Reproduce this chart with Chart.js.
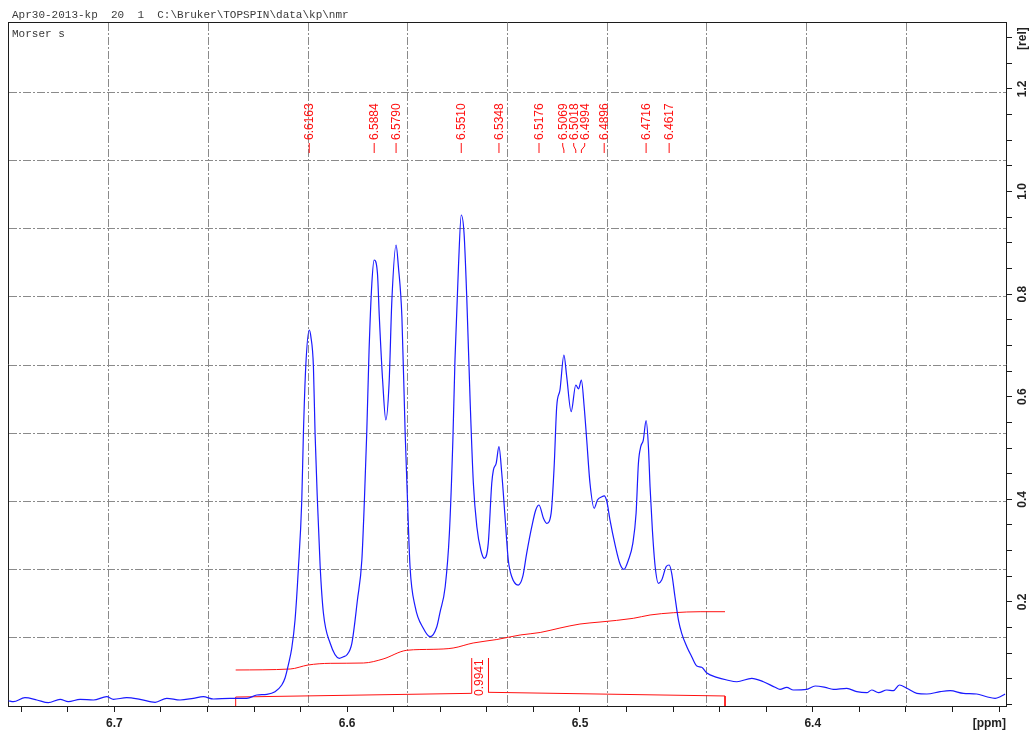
<!DOCTYPE html>
<html>
<head>
<meta charset="utf-8">
<title>Morser s – 1H NMR 6.32–6.75 ppm</title>
<script src="https://cdn.jsdelivr.net/npm/chart.js@4/dist/chart.umd.min.js"></script>
<style>
  html, body { margin: 0; padding: 0; background: #ffffff; }
  canvas { display: block; }
</style>
</head>
<body>
<canvas id="nmr" width="1035" height="732"></canvas>
<script>
// ---- Dataset header -------------------------------------------------------
const headerText = 'Apr30-2013-kp  20  1  C:\\Bruker\\TOPSPIN\\data\\kp\\nmr';
const sampleName = 'Morser s';

// ---- Axis ranges and tick labels -------------------------------------------
const ppmRange = [6.3170, 6.7457];          // visible chemical-shift window
const relRange = [-0.0029, 1.3304];         // visible intensity window
const xTickLabels = ['6.7', '6.6', '6.5', '6.4'];
const yTickValues = [0.2, 0.4, 0.6, 0.8, 1.0, 1.2];
const yTickLabels = ['0.2', '0.4', '0.6', '0.8', '1.0', '1.2'];
const xUnit = '[ppm]';
const yUnit = '[rel]';

// ---- Spectrum trace (ppm, relative intensity) -------------------------------
const specPpm = [
  6.7455, 6.7434, 6.7384, 6.7333, 6.7284, 6.7233, 6.7198, 6.7147, 6.7090, 6.7033,
  6.7004, 6.6947, 6.6890, 6.6825, 6.6775, 6.6718, 6.6661, 6.6618, 6.6575, 6.6503,
  6.6431, 6.6388, 6.6345, 6.6310, 6.6281, 6.6267, 6.6253, 6.6238, 6.6224, 6.6210,
  6.6195, 6.6188, 6.6178, 6.6163, 6.6156, 6.6145, 6.6138, 6.6128, 6.6116, 6.6102,
  6.6073, 6.6034, 6.6016, 6.6002, 6.5980, 6.5956, 6.5937, 6.5926, 6.5916, 6.5906,
  6.5894, 6.5884, 6.5870, 6.5862, 6.5847, 6.5834, 6.5820, 6.5808, 6.5790, 6.5780,
  6.5765, 6.5751, 6.5741, 6.5730, 6.5708, 6.5673, 6.5644, 6.5615, 6.5601, 6.5579,
  6.5561, 6.5546, 6.5537, 6.5522, 6.5510, 6.5498, 6.5486, 6.5472, 6.5458, 6.5443,
  6.5426, 6.5411, 6.5394, 6.5379, 6.5372, 6.5360, 6.5348, 6.5336, 6.5322, 6.5308,
  6.5293, 6.5265, 6.5246, 6.5229, 6.5207, 6.5190, 6.5176, 6.5157, 6.5143, 6.5124,
  6.5111, 6.5100, 6.5086, 6.5069, 6.5057, 6.5038, 6.5018, 6.5006, 6.4994, 6.4982,
  6.4971, 6.4957, 6.4939, 6.4925, 6.4906, 6.4896, 6.4885, 6.4871, 6.4849, 6.4828,
  6.4811, 6.4792, 6.4773, 6.4759, 6.4749, 6.4739, 6.4728, 6.4716, 6.4706, 6.4699,
  6.4689, 6.4677, 6.4663, 6.4649, 6.4630, 6.4617, 6.4606, 6.4592, 6.4577, 6.4563,
  6.4541, 6.4520, 6.4498, 6.4477, 6.4455, 6.4412, 6.4369, 6.4326, 6.4262, 6.4212,
  6.4162, 6.4141, 6.4112, 6.4083, 6.4026, 6.3990, 6.3947, 6.3912, 6.3854, 6.3811,
  6.3768, 6.3747, 6.3718, 6.3682, 6.3654, 6.3628, 6.3596, 6.3553, 6.3510, 6.3453,
  6.3410, 6.3353, 6.3296, 6.3253, 6.3217, 6.3195, 6.3174
];
const specRel = [
  0.0074, 0.0055, 0.0133, 0.0088, 0.0035, 0.0101, 0.0055, 0.0101, 0.0088, 0.0152,
  0.0101, 0.0133, 0.0101, 0.0043, 0.0121, 0.0088, 0.0121, 0.0152, 0.0107, 0.0121,
  0.0121, 0.0185, 0.0199, 0.0250, 0.0380, 0.0517, 0.0770, 0.1101, 0.1647, 0.2622,
  0.3986, 0.5292, 0.6585, 0.7300, 0.7170, 0.6585, 0.5292, 0.3986, 0.2686, 0.1778,
  0.1193, 0.0901, 0.0932, 0.0965, 0.1193, 0.2037, 0.2817, 0.3986, 0.5292, 0.6901,
  0.8211, 0.8665, 0.8405, 0.7559, 0.6261, 0.5546, 0.6261, 0.7885, 0.8957, 0.8534,
  0.7559, 0.5292, 0.3986, 0.2686, 0.1906, 0.1485, 0.1322, 0.1517, 0.1803, 0.2296,
  0.3337, 0.5156, 0.6715, 0.8534, 0.9542, 0.9185, 0.7885, 0.5936, 0.4312, 0.3466,
  0.3012, 0.2850, 0.3142, 0.4312, 0.4571, 0.4702, 0.5025, 0.4507, 0.3661, 0.2817,
  0.2491, 0.2329, 0.2491, 0.2947, 0.3466, 0.3791, 0.3889, 0.3630, 0.3532, 0.3727,
  0.4635, 0.5805, 0.6131, 0.6813, 0.6390, 0.5708, 0.6228, 0.6154, 0.6326, 0.5805,
  0.5156, 0.4312, 0.3825, 0.3986, 0.4051, 0.4068, 0.3967, 0.3596, 0.3109, 0.2739,
  0.2635, 0.2817, 0.3142, 0.3727, 0.4702, 0.5025, 0.5156, 0.5532, 0.5025, 0.4246,
  0.3402, 0.2686, 0.2363, 0.2427, 0.2686, 0.2719, 0.2558, 0.2101, 0.1647, 0.1388,
  0.1127, 0.0932, 0.0750, 0.0725, 0.0614, 0.0530, 0.0478, 0.0444, 0.0511, 0.0444,
  0.0335, 0.0296, 0.0335, 0.0283, 0.0296, 0.0361, 0.0335, 0.0296, 0.0316, 0.0250,
  0.0230, 0.0283, 0.0230, 0.0283, 0.0269, 0.0380, 0.0316, 0.0218, 0.0205, 0.0250,
  0.0269, 0.0218, 0.0205, 0.0152, 0.0121, 0.0152, 0.0205
];

// ---- Picked peaks (ppm) ----------------------------------------------------
const peakPpm = [6.6163, 6.5884, 6.5790, 6.5510, 6.5348, 6.5176,
                 6.5069, 6.5018, 6.4994, 6.4896, 6.4716, 6.4617];
const peakLabels = peakPpm.map(v => v.toFixed(4));

// ---- Integral --------------------------------------------------------------
const intPpm = [6.6479, 6.6245, 6.6168, 6.6073, 6.5930, 6.5846, 6.5744, 6.5631, 6.5545, 6.5459,
                6.5357, 6.5257, 6.5171, 6.5086, 6.5000, 6.4914, 6.4771, 6.4699, 6.4599, 6.4484, 6.4377];
const intRel = [0.0673, 0.0692, 0.0770, 0.0803, 0.0809, 0.0887, 0.1057, 0.1076, 0.1101, 0.1199,
                0.1267, 0.1355, 0.1404, 0.1491, 0.1569, 0.1608, 0.1680, 0.1745, 0.1789, 0.1809, 0.1809];
const integralRange = [6.6479, 6.4377];          // integrated region, ppm
const integralTag = [6.5465, 6.5393];            // edges of the value tag, ppm
const integralFootRel = [0.0146, 0.0218, 0.0238, 0.0166];
const integralTagTop = 0.0906;
const integralValue = 0.9941;

// ---- Styling ---------------------------------------------------------------
const INK = '#1c1c1c';
const GRID = '#8a8a8a';
const RED = '#ff1010';
const BLUE = '#1a1aff';
const gridDash = [8, 2, 2, 2];
const sansFamily = '"Liberation Sans", Arial, Helvetica, sans-serif';
const monoFamily = '"Liberation Mono", "DejaVu Sans Mono", monospace';
const axisFont = { family: sansFamily, size: 12, weight: 'bold' };

const toPoints = (xs, ys) => xs.map((x, i) => ({ x, y: ys[i] }));

const bracketLeft = [
  { x: integralRange[0], y: relRange[0] },
  { x: integralRange[0], y: integralFootRel[0] },
  { x: integralTag[0], y: integralFootRel[1] },
  { x: integralTag[0], y: integralTagTop }
];
const bracketRight = [
  { x: integralTag[1], y: integralTagTop },
  { x: integralTag[1], y: integralFootRel[2] },
  { x: integralRange[1], y: integralFootRel[3] },
  { x: integralRange[1], y: relRange[0] }
];

// Spread crowded peak labels so neighbouring texts keep a minimum spacing.
function spreadLabels(px, gap) {
  let groups = px.map((p, i) => ({ idx: [i], center: p }));
  let merged = true;
  while (merged) {
    merged = false;
    for (let g = 0; g < groups.length - 1; g++) {
      const a = groups[g], b = groups[g + 1];
      const aEnd = a.center + (a.idx.length - 1) * gap / 2;
      const bStart = b.center - (b.idx.length - 1) * gap / 2;
      if (bStart - aEnd < gap) {
        const idx = a.idx.concat(b.idx);
        const center = idx.reduce((s, k) => s + px[k], 0) / idx.length;
        groups.splice(g, 2, { idx, center });
        merged = true;
        break;
      }
    }
  }
  const out = [];
  groups.forEach(g => g.idx.forEach((k, j) => {
    out[k] = g.center + (j - (g.idx.length - 1) / 2) * gap;
  }));
  return out;
}

function rotatedText(ctx, text, x, y, align) {
  ctx.save();
  ctx.translate(x, y);
  ctx.rotate(-Math.PI / 2);
  ctx.textAlign = align;
  ctx.textBaseline = 'middle';
  ctx.fillText(text, 0, 0);
  ctx.restore();
}

// Texts: header, sample name, axis labels, peak list and integral value.
const spectrumText = {
  id: 'spectrumText',
  afterDraw(chart) {
    const { ctx, chartArea, scales } = chart;
    const xs = scales.x, ys = scales.y;
    ctx.save();

    ctx.font = '11px ' + monoFamily;
    ctx.fillStyle = '#3a3a3a';
    ctx.textAlign = 'left';
    ctx.textBaseline = 'middle';
    ctx.fillText(headerText, 12, chartArea.top - 6.5);
    ctx.fillText(sampleName, chartArea.left + 4, chartArea.top + 12.5);

    // intensity axis labels, written upwards
    ctx.font = 'bold 12px ' + sansFamily;
    ctx.fillStyle = '#222';
    const labelX = ys.left + 17;
    yTickValues.forEach((v, i) => {
      rotatedText(ctx, yTickLabels[i], labelX, ys.getPixelForValue(v), 'center');
    });
    rotatedText(ctx, yUnit, labelX, ys.getPixelForValue(1.3) + 1, 'center');

    ctx.textAlign = 'right';
    ctx.textBaseline = 'middle';
    ctx.fillText(xUnit, chartArea.right, xs.top + 17.3);

    // peak list
    ctx.font = '12px ' + sansFamily;
    ctx.fillStyle = RED;
    ctx.strokeStyle = RED;
    ctx.lineWidth = 1;
    const px = peakPpm.map(p => xs.getPixelForValue(p));
    const lx = spreadLabels(px, 11);
    const textBase = chartArea.top + 118;
    const tickTop = chartArea.top + 121;
    const tickBottom = chartArea.top + 131;
    peakLabels.forEach((label, i) => {
      ctx.beginPath();
      ctx.moveTo(lx[i], tickTop);
      ctx.lineTo(lx[i], tickTop + 3);
      ctx.lineTo(px[i], tickBottom - 3);
      ctx.lineTo(px[i], tickBottom);
      ctx.stroke();
      rotatedText(ctx, label, lx[i] + 0.5, textBase, 'left');
    });

    // integral value inside its tag
    const tagX = xs.getPixelForValue((integralTag[0] + integralTag[1]) / 2);
    const tagY = ys.getPixelForValue((integralTagTop + integralFootRel[1]) / 2) + 2;
    rotatedText(ctx, integralValue.toFixed(4), tagX, tagY, 'center');

    ctx.restore();
  }
};

new Chart(document.getElementById('nmr'), {
  type: 'scatter',
  data: {
    datasets: [
      {
        label: 'spectrum',
        data: toPoints(specPpm, specRel),
        showLine: true,
        borderColor: BLUE,
        borderWidth: 1.2,
        pointRadius: 0,
        cubicInterpolationMode: 'monotone'
      },
      {
        label: 'integral',
        data: toPoints(intPpm, intRel),
        showLine: true,
        borderColor: RED,
        borderWidth: 1,
        pointRadius: 0,
        cubicInterpolationMode: 'monotone'
      },
      {
        label: 'integral region (left)',
        data: bracketLeft,
        showLine: true,
        borderColor: RED,
        borderWidth: 1,
        pointRadius: 0,
        tension: 0
      },
      {
        label: 'integral region (right)',
        data: bracketRight,
        showLine: true,
        borderColor: RED,
        borderWidth: 1,
        pointRadius: 0,
        tension: 0
      }
    ]
  },
  options: {
    responsive: false,
    animation: false,
    devicePixelRatio: 1,
    events: [],
    layout: { padding: { top: 22, left: 8, right: 0, bottom: 0 } },
    plugins: { legend: { display: false }, tooltip: { enabled: false } },
    scales: {
      x: {
        type: 'linear',
        position: 'bottom',
        reverse: true,
        min: ppmRange[0],
        max: ppmRange[1],
        afterFit: s => { s.height = 26; },
        grid: { drawOnChartArea: false, drawTicks: true, tickLength: 6, color: INK, tickColor: INK },
        border: { display: true, color: INK, width: 1 },
        ticks: {
          stepSize: 0.02,
          includeBounds: false,
          autoSkip: false,
          maxRotation: 0,
          minRotation: 0,
          padding: 4,
          color: '#222',
          font: axisFont,
          callback: v => {
            const s = Number(v).toFixed(1);
            return (Math.abs(v - parseFloat(s)) < 1e-6 && xTickLabels.includes(s)) ? s : '';
          }
        }
      },
      y: {
        type: 'linear',
        position: 'right',
        min: relRange[0],
        max: relRange[1],
        afterFit: s => { s.width = 29; },
        grid: { drawOnChartArea: false, drawTicks: true, tickLength: 6, color: INK, tickColor: INK },
        border: { display: true, color: INK, width: 1 },
        ticks: { display: false, stepSize: 0.05, includeBounds: false, autoSkip: false }
      },
      x2: {
        type: 'linear',
        axis: 'x',
        position: 'top',
        min: -0.013,
        max: 10,
        afterFit: s => { s.height = 0; },
        ticks: { display: false, stepSize: 1, autoSkip: false },
        grid: {
          drawTicks: false,
          lineWidth: 1,
          color: c => (c.tick && c.tick.value > 0.5 && c.tick.value < 9.5) ? GRID : 'rgba(0,0,0,0)'
        },
        border: { display: true, color: INK, width: 1, dash: gridDash }
      },
      y2: {
        type: 'linear',
        axis: 'y',
        position: 'left',
        min: 0,
        max: 10.03,
        afterFit: s => { s.width = 0; },
        ticks: { display: false, stepSize: 1, autoSkip: false },
        grid: {
          drawTicks: false,
          lineWidth: 1,
          color: c => (c.tick && c.tick.value > 0.5 && c.tick.value < 9.5) ? GRID : 'rgba(0,0,0,0)'
        },
        border: { display: true, color: INK, width: 1, dash: gridDash }
      }
    }
  },
  plugins: [spectrumText]
});
</script>
</body>
</html>
